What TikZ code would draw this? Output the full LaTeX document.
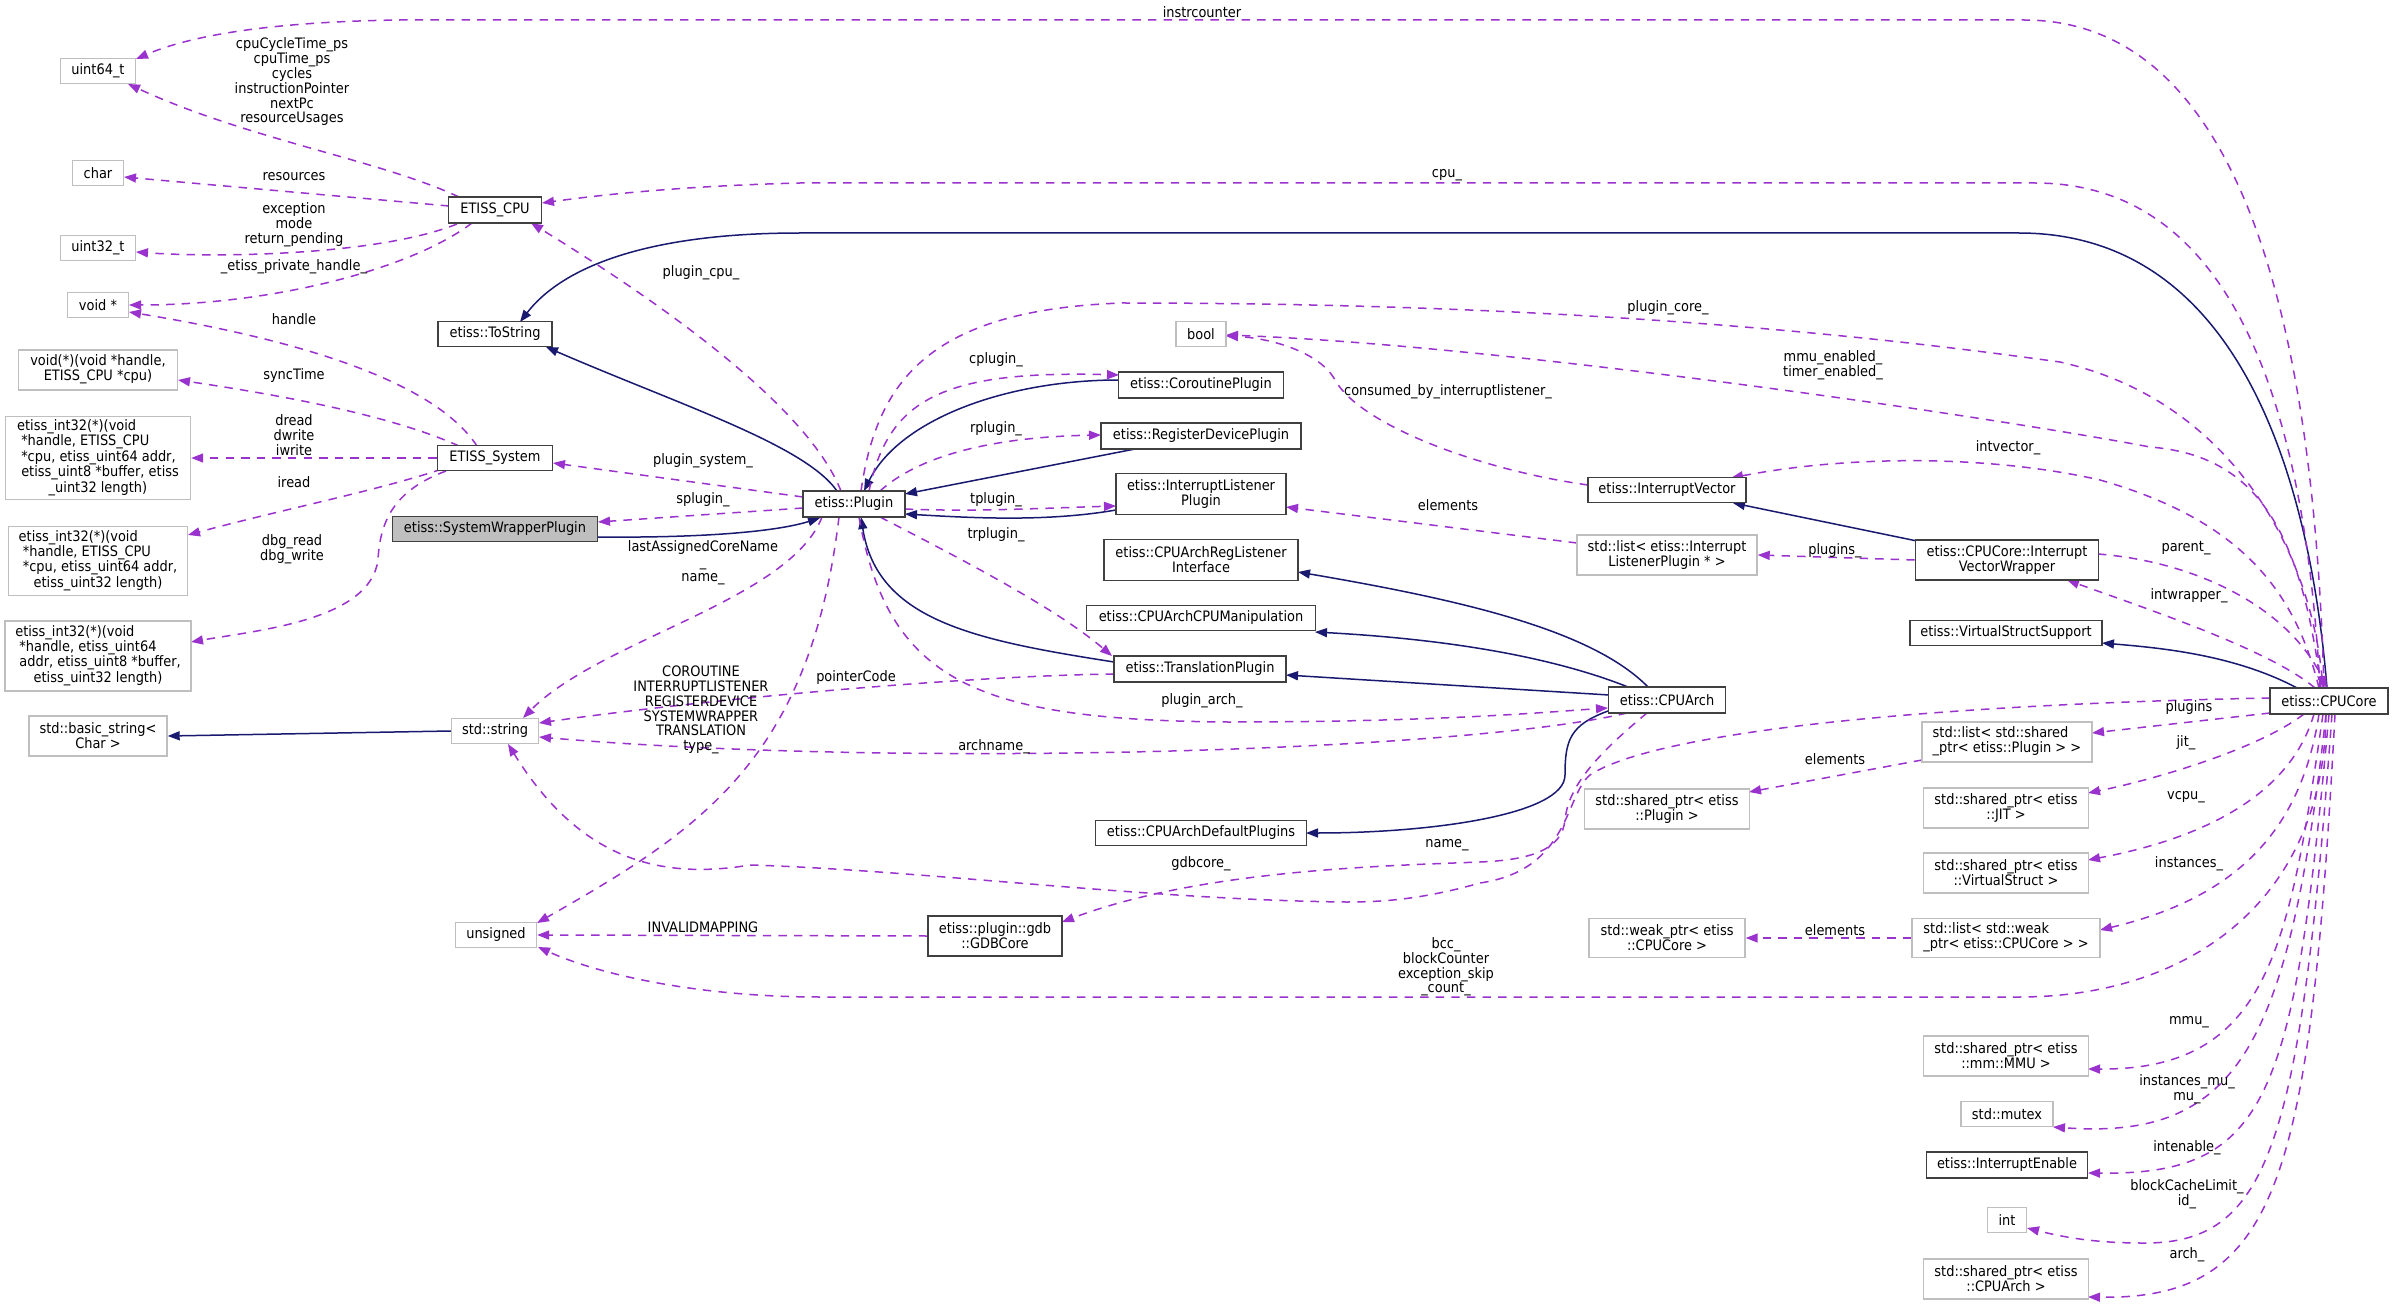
\documentclass[tikz,border=0pt]{standalone}
\usepackage{fontspec}
\setmainfont{DejaVu Sans Condensed}
\usetikzlibrary{arrows.meta}
\definecolor{navyc}{RGB}{25,25,112}
\definecolor{purpc}{RGB}{154,50,205}
\definecolor{dkb}{RGB}{64,64,64}
\definecolor{ltb}{RGB}{191,191,191}
\newcommand\lblfont{\fontsize{7.2}{7.4}\selectfont}
\pgfdeclarelayer{bg}
\pgfsetlayers{bg,main}
\begin{document}
\begin{tikzpicture}[x=0.5pt,y=-0.5pt,
  cls/.style={draw=dkb, line width=0.8pt, fill=white, inner sep=0pt, align=center, font=\lblfont},
  ext/.style={draw=ltb, line width=0.7pt, fill=white, inner sep=0pt, align=center, font=\lblfont},
  focus/.style={cls, fill=ltb},
  lab/.style={inner sep=0pt, align=center, font=\lblfont},
  inh/.style={draw=navyc, line width=0.75pt, -{Triangle[length=6pt,width=4.5pt]}},
  use/.style={draw=purpc, line width=0.75pt, dash pattern=on 4.2pt off 3.6pt, -{Triangle[length=6pt,width=4.5pt]}},
  sz/.style 2 args={minimum width=#1, minimum height=#2}]
\useasboundingbox (0,0) rectangle (2395,1305);
% ---------------- nodes: left column
\node[ext, sz={37.5pt}{12.5pt}] (u64) at (98,71) {uint64\_t};
\node[ext, sz={25.5pt}{12.5pt}] (chr) at (98,173) {char};
\node[ext, sz={37.5pt}{12.5pt}] (u32) at (98,248) {uint32\_t};
\node[ext, sz={30.5pt}{12.5pt}] (vp) at (98,305) {void *};
\node[ext, sz={79.5pt}{20pt}] (vfn) at (98,370) {\begin{tabular}{@{}l@{}}void(*)(void *handle,\\\multicolumn{1}{@{}c@{}}{ETISS\_CPU *cpu)}\end{tabular}};
\node[ext, sz={92.5pt}{41.5pt}] (ia) at (98,458) {\begin{tabular}{@{}l@{}}etiss\_int32(*)(void\\\ *handle, ETISS\_CPU\\\ *cpu, etiss\_uint64 addr,\\\ etiss\_uint8 *buffer, etiss\\\multicolumn{1}{@{}c@{}}{\_uint32 length)}\end{tabular}};
\node[ext, sz={89.5pt}{34.5pt}] (ib) at (98,561) {\begin{tabular}{@{}l@{}}etiss\_int32(*)(void\\\ *handle, ETISS\_CPU\\\ *cpu, etiss\_uint64 addr,\\\multicolumn{1}{@{}c@{}}{etiss\_uint32 length)}\end{tabular}};
\node[ext, sz={93pt}{35pt}] (ic) at (98,656) {\begin{tabular}{@{}l@{}}etiss\_int32(*)(void\\\ *handle, etiss\_uint64\\\ addr, etiss\_uint8 *buffer,\\\multicolumn{1}{@{}c@{}}{etiss\_uint32 length)}\end{tabular}};
\node[ext, sz={69pt}{20pt}] (bstr) at (98,736) {std::basic\_string<\\Char >};
% ---------------- second column
\node[cls, sz={46.5pt}{13pt}] (cpu) at (495,210) {ETISS\_CPU};
\node[cls, sz={57pt}{12.5pt}] (tostr) at (495,334) {etiss::ToString};
\node[cls, sz={57.5pt}{12.5pt}] (sys) at (495,458) {ETISS\_System};
\node[focus, sz={102.5pt}{12.5pt}] (swp) at (495,529) {etiss::SystemWrapperPlugin};
\node[ext, sz={43.5pt}{12.5pt}] (str) at (495,731) {std::string};
\node[ext, sz={40.5pt}{12.5pt}] (uns) at (496,935) {unsigned};
% ---------------- plugin column
\node[cls, sz={51pt}{13pt}] (plug) at (854,504) {etiss::Plugin};
\node[cls, sz={67pt}{20pt}] (gdb) at (995,936) {etiss::plugin::gdb\\::GDBCore};
\node[ext, sz={25pt}{12.5pt}] (bool) at (1201,334) {bool};
\node[cls, sz={82.5pt}{13pt}] (cor) at (1201,385) {etiss::CoroutinePlugin};
\node[cls, sz={100pt}{13pt}] (rdp) at (1201,436) {etiss::RegisterDevicePlugin};
\node[cls, sz={85pt}{20.5pt}] (ilp) at (1201,494) {etiss::InterruptListener\\Plugin};
\node[cls, sz={97pt}{20.5pt}] (carli) at (1201,560) {etiss::CPUArchRegListener\\Interface};
\node[cls, sz={114.5pt}{12.5pt}] (cacm) at (1201,618) {etiss::CPUArchCPUManipulation};
\node[cls, sz={86pt}{13pt}] (trp) at (1200,669) {etiss::TranslationPlugin};
\node[cls, sz={105.5pt}{12.5pt}] (cadp) at (1201,833) {etiss::CPUArchDefaultPlugins};
% ---------------- right part
\node[cls, sz={79pt}{12.5pt}] (iv) at (1667,490) {etiss::InterruptVector};
\node[ext, sz={90pt}{20pt}] (lilp) at (1667,555) {std::list< etiss::Interrupt\\ListenerPlugin * >};
\node[cls, sz={58.5pt}{13pt}] (arch) at (1667,700) {etiss::CPUArch};
\node[ext, sz={82.5pt}{20pt}] (spp) at (1667,809) {std::shared\_ptr< etiss\\::Plugin >};
\node[ext, sz={78pt}{19.5pt}] (wp) at (1667,938) {std::weak\_ptr< etiss\\::CPUCore >};
\node[cls, sz={91.5pt}{20pt}] (ivw) at (2007,560) {etiss::CPUCore::Interrupt\\VectorWrapper};
\node[cls, sz={96pt}{12.5pt}] (vss) at (2006,633) {etiss::VirtualStructSupport};
\node[ext, sz={85pt}{20pt}] (lsp) at (2007,742) {\begin{tabular}{@{}l@{}}std::list< std::shared\\\multicolumn{1}{@{}c@{}}{\_ptr< etiss::Plugin > >}\end{tabular}};
\node[ext, sz={82.5pt}{20pt}] (jit) at (2006,808) {std::shared\_ptr< etiss\\::JIT >};
\node[ext, sz={82.5pt}{20pt}] (vs) at (2006,873) {std::shared\_ptr< etiss\\::VirtualStruct >};
\node[ext, sz={94pt}{19.5pt}] (lwp) at (2006,938) {\begin{tabular}{@{}l@{}}std::list< std::weak\\\multicolumn{1}{@{}c@{}}{\_ptr< etiss::CPUCore > >}\end{tabular}};
\node[ext, sz={82.5pt}{20pt}] (mmu) at (2006,1056) {std::shared\_ptr< etiss\\::mm::MMU >};
\node[ext, sz={46pt}{12.5pt}] (mtx) at (2007,1114) {std::mutex};
\node[cls, sz={80.5pt}{13pt}] (ie) at (2007,1165) {etiss::InterruptEnable};
\node[ext, sz={19.5pt}{12.5pt}] (int) at (2007,1220) {int};
\node[ext, sz={82.5pt}{20pt}] (sarch) at (2006,1279) {std::shared\_ptr< etiss\\::CPUArch >};
\node[cls, sz={59pt}{13pt}] (core) at (2329,701) {etiss::CPUCore};
% ---------------- edge labels
\node[lab] (l01) at (1202,12) {instrcounter};
\node[lab] (l02) at (292,82) {cpuCycleTime\_ps\\cpuTime\_ps\\cycles\\instructionPointer\\nextPc\\resourceUsages};
\node[lab] (l03) at (294,177) {resources};
\node[lab] (l04) at (294,225) {exception\\mode\\return\_pending};
\node[lab] (l05) at (294,267) {\_etiss\_private\_handle\_};
\node[lab] (l06) at (294,319) {handle};
\node[lab] (l07) at (294,376) {syncTime};
\node[lab] (l08) at (294,435) {dread\\dwrite\\iwrite};
\node[lab] (l09) at (294,482) {iread};
\node[lab] (l10) at (292,549) {dbg\_read\\dbg\_write};
\node[lab] (l11) at (1447,175) {cpu\_};
\node[lab] (l12) at (701,273) {plugin\_cpu\_};
\node[lab] (l13) at (703,461) {plugin\_system\_};
\node[lab] (l14) at (703,500) {splugin\_};
\node[lab] (l15) at (703,563) {lastAssignedCoreName\\\_\\name\_};
\node[lab] (l16) at (701,710) {COROUTINE\\INTERRUPTLISTENER\\REGISTERDEVICE\\SYSTEMWRAPPER\\TRANSLATION\\type\_};
\node[lab] (l17) at (856,678) {pointerCode};
\node[lab] (l18) at (703,927) {INVALIDMAPPING};
\node[lab] (l19) at (1446,967) {bcc\_\\blockCounter\\exception\_skip\\\_count\_};
\node[lab] (l20) at (996,360) {cplugin\_};
\node[lab] (l21) at (996,429) {rplugin\_};
\node[lab] (l22) at (996,500) {tplugin\_};
\node[lab] (l23) at (996,535) {trplugin\_};
\node[lab] (l24) at (1202,701) {plugin\_arch\_};
\node[lab] (l25) at (994,747) {archname\_};
\node[lab] (l26) at (1668,308) {plugin\_core\_};
\node[lab] (l27) at (1833,365) {mmu\_enabled\_\\timer\_enabled\_};
\node[lab] (l28) at (1448,392) {consumed\_by\_interruptlistener\_};
\node[lab] (l29) at (1448,505) {elements};
\node[lab] (l30) at (1835,551) {plugins\_};
\node[lab] (l31) at (2008,448) {intvector\_};
\node[lab] (l32) at (2186,548) {parent\_};
\node[lab] (l33) at (2189,596) {intwrapper\_};
\node[lab] (l34) at (2189,708) {plugins};
\node[lab] (l35) at (1835,759) {elements};
\node[lab] (l36) at (2186,743) {jit\_};
\node[lab] (l37) at (2186,797) {vcpu\_};
\node[lab] (l38) at (2189,864) {instances\_};
\node[lab] (l39) at (1835,930) {elements};
\node[lab] (l40) at (2189,1022) {mmu\_};
\node[lab] (l41) at (2187,1089) {instances\_mu\_\\mu\_};
\node[lab] (l42) at (2187,1148) {intenable\_};
\node[lab] (l43) at (2187,1194) {blockCacheLimit\_\\id\_};
\node[lab] (l44) at (2187,1255) {arch\_};
\node[lab] (l45) at (1201,864) {gdbcore\_};
\node[lab] (l46) at (1447,845) {name\_};
% ---------------- edges
\begin{pgfonlayer}{bg}
\fill[white] (0,0) rectangle (2395,1305);
% inheritance
\draw[inh] ([shift={(103,8)}]swp.center) .. controls (700,538) and (775,532) .. ([shift={(-34,14)}]plug.center);
\draw[inh] ([shift={(-17,-13)}]plug.center) .. controls (805,445) and (680,405) .. ([shift={(51,13)}]tostr.center);
\draw[inh] ([shift={(-2,-13)}]core.center) .. controls (2310,480) and (2240,233) .. (2019,233) -- (800,233) .. controls (640,233) and (560,270) .. ([shift={(25,-12)}]tostr.center);
\draw[inh] ([shift={(-82,-5)}]cor.center) .. controls (1005,380) and (899,420) .. ([shift={(10,-13)}]plug.center);
\draw[inh] ([shift={(-66,13)}]rdp.center) -- ([shift={(51,-10)}]plug.center);
\draw[inh] ([shift={(-85,16)}]ilp.center) .. controls (1047,522) and (973,518) .. ([shift={(51,10)}]plug.center);
\draw[inh] ([shift={(-86,-7)}]trp.center) .. controls (973,640) and (877,620) .. ([shift={(7,13)}]plug.center);
\draw[inh] ([shift={(-90,-19)}]ivw.center) -- ([shift={(66,13)}]iv.center);
\draw[inh] ([shift={(-30,-12)}]core.center) .. controls (2236,655) and (2162,648) .. ([shift={(96,10)}]vss.center);
\draw[inh] ([shift={(-19,-13)}]arch.center) .. controls (1592,630) and (1462,600) .. ([shift={(97,12)}]carli.center);
\draw[inh] ([shift={(-39,-13)}]arch.center) .. controls (1560,660) and (1462,640) .. ([shift={(114,14)}]cacm.center);
\draw[inh] ([shift={(-58,-5)}]arch.center) -- ([shift={(86,6)}]trp.center);
\draw[inh] ([shift={(-59,11)}]arch.center) .. controls (1570,725) and (1565,740) .. (1565,775) .. controls (1565,815) and (1430,833) .. ([shift={(105,0)}]cadp.center);
\draw[inh] (str.west) -- (bstr.east);
% usage
\draw[use] ([shift={(-5,-12)}]core.center) .. controls (2315,350) and (2250,20) .. (2024,20) -- (400,20) .. controls (250,22) and (180,40) .. ([shift={(38,-12)}]u64.center);
\draw[use] ([shift={(-36,-13)}]cpu.center) .. controls (380,160) and (250,140) .. ([shift={(30,13)}]u64.center);
\draw[use] ([shift={(-46,-4)}]cpu.center) -- ([shift={(26,4)}]chr.center);
\draw[use] ([shift={(-38,14)}]cpu.center) .. controls (380,255) and (220,258) .. ([shift={(38,4)}]u32.center);
\draw[use] ([shift={(-23,13)}]cpu.center) .. controls (410,270) and (270,305) .. ([shift={(31,0)}]vp.center);
\draw[use] ([shift={(-18,-12)}]sys.center) .. controls (440,390) and (330,345) .. ([shift={(31,7)}]vp.center);
\draw[use] ([shift={(-36,-12)}]sys.center) .. controls (390,415) and (280,395) .. ([shift={(80,10)}]vfn.center);
\draw[use] (sys.west) -- (ia.east);
\draw[use] ([shift={(-53,11)}]sys.center) .. controls (380,490) and (280,510) .. ([shift={(90,-26)}]ib.center);
\draw[use] ([shift={(-49,13)}]sys.center) .. controls (395,490) and (380,520) .. (378,560) .. controls (370,620) and (260,630) .. ([shift={(93,-14)}]ic.center);
\draw[use] ([shift={(-9,-12)}]core.center) .. controls (2305,400) and (2230,183) .. (2035,183) -- (800,183) .. controls (680,186) and (600,195) .. ([shift={(47,-7)}]cpu.center);
\draw[use] ([shift={(-13,-13)}]plug.center) .. controls (805,400) and (640,290) .. ([shift={(36,13)}]cpu.center);
\draw[use] ([shift={(-51,-7)}]plug.center) -- ([shift={(58,5)}]sys.center);
\draw[use] ([shift={(-51,4)}]plug.center) -- ([shift={(103,-7)}]swp.center);
\draw[use] ([shift={(-32,13)}]plug.center) .. controls (790,600) and (600,640) .. ([shift={(28,-13)}]str.center);
\draw[use] ([shift={(-15,13)}]plug.center) .. controls (810,760) and (700,830) .. ([shift={(41,-12)}]uns.center);
\draw[use] ([shift={(-86,5)}]trp.center) .. controls (960,676) and (700,700) .. ([shift={(44,-8)}]str.center);
\draw[use] ([shift={(-40,13)}]arch.center) .. controls (1460,752) and (900,768) .. ([shift={(44,6)}]str.center);
\draw[use] (gdb.west) -- (uns.east);
\draw[use] ([shift={(-3,13)}]core.center) .. controls (2324,900) and (2190,997) .. (2019,997) -- (820,997) .. controls (700,997) and (600,975) .. ([shift={(42,12)}]uns.center);
\draw[use] ([shift={(15,-13)}]plug.center) .. controls (888,400) and (941,370) .. ([shift={(-82,-10)}]cor.center);
\draw[use] ([shift={(26,-13)}]plug.center) .. controls (920,455) and (994,437) .. ([shift={(-100,-1)}]rdp.center);
\draw[use] ([shift={(51,5)}]plug.center) .. controls (973,512) and (1047,508) .. ([shift={(-85,12)}]ilp.center);
\draw[use] ([shift={(26,13)}]plug.center) .. controls (973,565) and (1058,610) .. ([shift={(-88,-13)}]trp.center);
\draw[use] ([shift={(5,13)}]plug.center) .. controls (888,680) and (973,720) .. (1228,722) .. controls (1440,722) and (1547,712) .. ([shift={(-59,8)}]arch.center);
\draw[use] ([shift={(7,-13)}]plug.center) .. controls (877,380) and (930,310) .. (1122,303) .. controls (1600,303) and (1900,340) .. (2060,362) .. controls (2230,400) and (2310,550) .. ([shift={(-6,-13)}]core.center);
\draw[use] ([shift={(-8,-13)}]core.center) .. controls (2300,520) and (2250,455) .. (2150,447) .. controls (1980,415) and (1500,345) .. ([shift={(25,1)}]bool.center);
\draw[use] ([shift={(-79,-5)}]iv.center) .. controls (1480,470) and (1360,425) .. (1335,380) .. controls (1320,352) and (1270,338) .. ([shift={(25,2)}]bool.center);
\draw[use] ([shift={(-90,-12)}]lilp.center) -- ([shift={(85,13)}]ilp.center);
\draw[use] (ivw.west) -- (lilp.east);
\draw[use] ([shift={(-10,-13)}]core.center) .. controls (2295,590) and (2240,520) .. (2100,480) .. controls (1990,455) and (1850,455) .. ([shift={(64,-12)}]iv.center);
\draw[use] ([shift={(91,-6)}]ivw.center) .. controls (2200,562) and (2290,610) .. ([shift={(-2,-13)}]core.center);
\draw[use] ([shift={(-14,-13)}]core.center) .. controls (2270,650) and (2150,610) .. ([shift={(60,20)}]ivw.center);
\draw[use] ([shift={(-59,-3)}]core.center) .. controls (1900,705) and (1650,735) .. (1590,775) .. controls (1565,795) and (1570,870) .. (1480,883) .. controls (1420,900) and (1380,902) .. (1346,902) .. controls (1150,900) and (920,870) .. (750,865) .. controls (660,880) and (580,860) .. ([shift={(13,13)}]str.center);
\draw[use] ([shift={(-20,13)}]arch.center) .. controls (1590,760) and (1568,790) .. (1565,820) .. controls (1562,850) and (1530,860) .. (1480,862) .. controls (1380,866) and (1200,870) .. ([shift={(67,-14)}]gdb.center);
\draw[use] ([shift={(-59,12)}]core.center) -- ([shift={(85,-9)}]lsp.center);
\draw[use] ([shift={(-85,18)}]lsp.center) -- ([shift={(82,-17)}]spp.center);
\draw[use] ([shift={(-25,13)}]core.center) .. controls (2257,750) and (2152,780) .. ([shift={(82,-15)}]jit.center);
\draw[use] ([shift={(-15,13)}]core.center) .. controls (2289,800) and (2194,840) .. ([shift={(82,-13)}]vs.center);
\draw[use] ([shift={(-10,13)}]core.center) .. controls (2300,840) and (2226,900) .. ([shift={(94,-8)}]lwp.center);
\draw[use] (lwp.west) -- (wp.east);
\draw[use] ([shift={(-6,13)}]core.center) .. controls (2289,950) and (2268,1070) .. ([shift={(82,13)}]mmu.center);
\draw[use] ([shift={(-3,13)}]core.center) .. controls (2289,1050) and (2236,1140) .. ([shift={(46,13)}]mtx.center);
\draw[use] ([shift={(0,13)}]core.center) .. controls (2294,1100) and (2268,1175) .. ([shift={(81,8)}]ie.center);
\draw[use] ([shift={(3,13)}]core.center) .. controls (2300,1150) and (2268,1245) .. (2141,1243) .. controls (2088,1243) and (2055,1235) .. ([shift={(20,8)}]int.center);
\draw[use] ([shift={(6,13)}]core.center) .. controls (2310,1180) and (2279,1300) .. ([shift={(82,18)}]sarch.center);
\end{pgfonlayer}
\end{tikzpicture}
\end{document}
